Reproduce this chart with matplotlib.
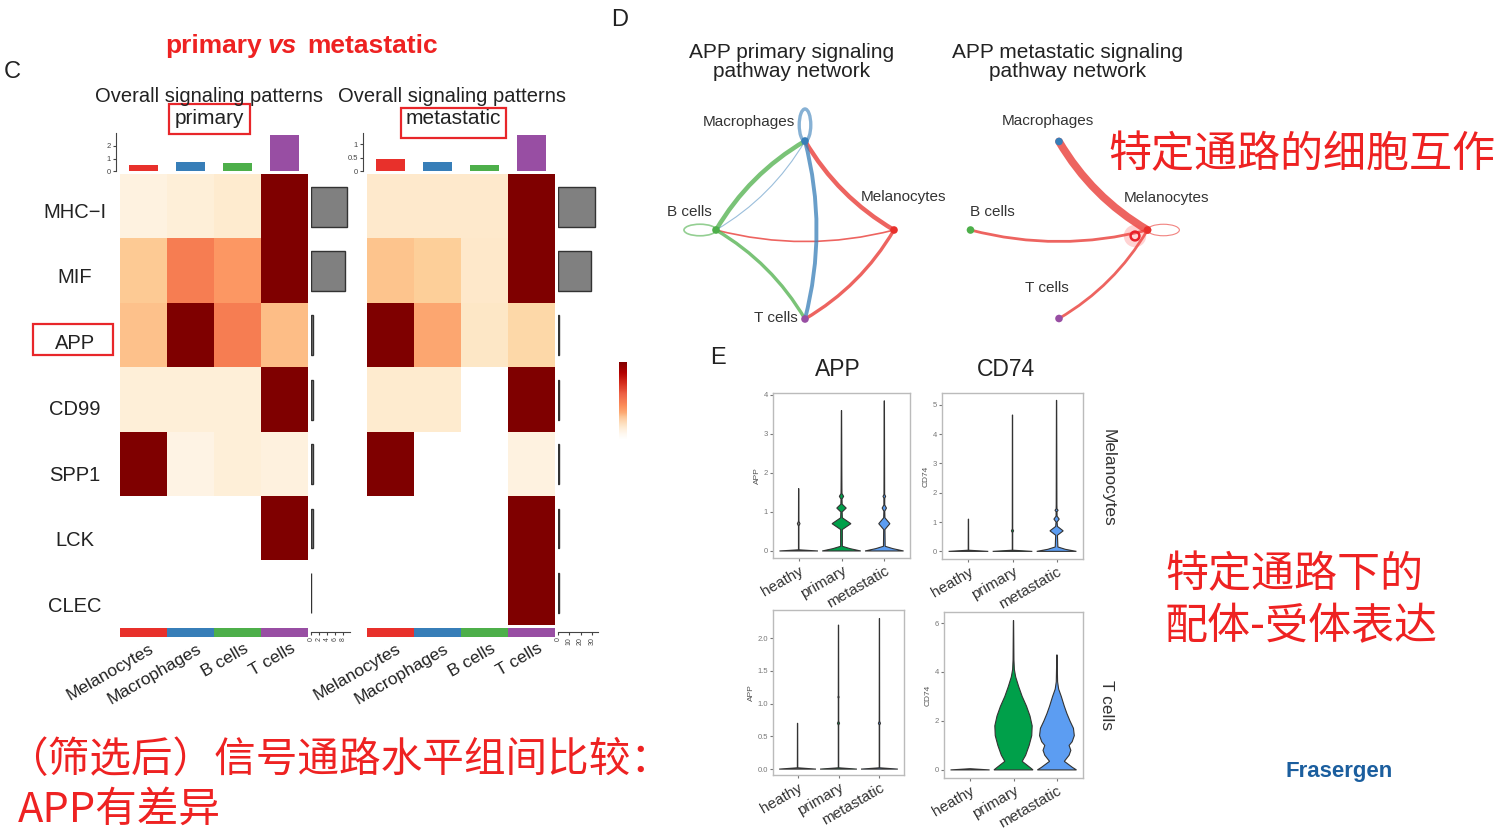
import numpy as np
import matplotlib
matplotlib.use('Agg')
import matplotlib.pyplot as plt
from matplotlib.patches import Rectangle, FancyArrowPatch, Ellipse

plt.rcParams['font.family'] = ['Liberation Sans', 'Noto Sans CJK SC', 'DejaVu Sans']

W, H = 1500, 833

# ---- panel C: signaling role heatmaps ----
pathways = ['MHC−I', 'MIF', 'APP', 'CD99', 'SPP1', 'LCK', 'CLEC']
cell_types = ['Melanocytes', 'Macrophages', 'B cells', 'T cells']
cell_colors = ['#E8302B', '#377EB8', '#4DAF4A', '#984EA3']

primary_heat = [[0.04, 0.07, 0.10, 1.0],
                [0.30, 0.55, 0.47, 1.0],
                [0.34, 1.00, 0.55, 0.36],
                [0.07, 0.07, 0.07, 1.0],
                [1.00, 0.03, 0.07, 0.05],
                [0, 0, 0, 1.0],
                [0, 0, 0, 0]]
metastatic_heat = [[0.11, 0.11, 0.11, 1.0],
                   [0.33, 0.27, 0.12, 1.0],
                   [1.00, 0.43, 0.13, 0.22],
                   [0.10, 0.10, 0, 1.0],
                   [1.00, 0, 0, 0.04],
                   [0, 0, 0, 1.0],
                   [0, 0, 0, 1.0]]
primary_top = [0.48, 0.70, 0.67, 2.88]
metastatic_top = [0.44, 0.32, 0.23, 1.33]
primary_side = [9.0, 8.4, 0.6, 0.6, 0.55, 0.5, 0.1]
metastatic_side = [33, 29, 1.0, 0.9, 0.8, 0.8, 0.8]

# ---- panel D: APP signaling networks ----
nodes = ['Melanocytes', 'Macrophages', 'B cells', 'T cells']
primary_edges = [('Melanocytes', 'Macrophages', 4.0), ('Melanocytes', 'T cells', 3.0),
                 ('Melanocytes', 'B cells', 1.5), ('B cells', 'Macrophages', 4.0),
                 ('B cells', 'T cells', 3.0), ('Macrophages', 'T cells', 3.5),
                 ('Macrophages', 'B cells', 1.0)]
primary_loops = [('B cells', 1.5), ('Macrophages', 3.0)]
metastatic_edges = [('Melanocytes', 'Macrophages', 7.0), ('Melanocytes', 'B cells', 2.5),
                    ('Melanocytes', 'T cells', 2.5)]
metastatic_loops = [('Melanocytes', 1.0)]

# ---- panel E: violin profiles (expression level, half width) ----
groups = ['heathy', 'primary', 'metastatic']
group_colors = ['#8A8A8A', '#00A04A', '#5C9DF2']

app_mel = [
    ([0, 0.03, 0.64, 0.7, 0.76, 1.6], [0.45, 0.005, 0.005, 0.03, 0.005, 0.003]),
    ([0, 0.06, 0.12, 0.55, 0.7, 0.85, 1.0, 1.1, 1.2, 1.33, 1.4, 1.47, 1.6, 2.0, 3.6],
     [0.45, 0.2, 0.02, 0.02, 0.22, 0.02, 0.015, 0.11, 0.015, 0.012, 0.05, 0.012, 0.01, 0.008, 0.003]),
    ([0, 0.06, 0.12, 0.55, 0.7, 0.85, 1.02, 1.1, 1.18, 1.35, 1.4, 1.45, 3.85],
     [0.45, 0.2, 0.02, 0.015, 0.13, 0.015, 0.01, 0.05, 0.01, 0.01, 0.03, 0.008, 0.003]),
]
cd74_mel = [
    ([0, 0.04, 1.1], [0.45, 0.005, 0.003]),
    ([0, 0.04, 0.64, 0.7, 0.76, 4.65], [0.45, 0.005, 0.005, 0.025, 0.005, 0.003]),
    ([0, 0.07, 0.15, 0.55, 0.7, 0.85, 1.0, 1.1, 1.2, 1.35, 1.4, 1.45, 1.6, 5.15],
     [0.45, 0.2, 0.03, 0.02, 0.15, 0.02, 0.012, 0.06, 0.012, 0.01, 0.035, 0.01, 0.008, 0.003]),
]
app_t = [
    ([0, 0.02, 0.7], [0.45, 0.005, 0.003]),
    ([0, 0.02, 0.67, 0.7, 0.73, 1.08, 1.1, 1.12, 2.2],
     [0.45, 0.005, 0.005, 0.025, 0.005, 0.005, 0.015, 0.005, 0.003]),
    ([0, 0.02, 0.67, 0.7, 0.73, 2.3], [0.45, 0.005, 0.005, 0.025, 0.005, 0.003]),
]
cd74_t = [
    ([0, 0.05], [0.45, 0]),
    ([0, 0.1, 0.35, 0.6, 1.0, 1.4, 1.8, 2.2, 2.6, 3.0, 3.4, 3.8, 4.1, 4.5, 6.1],
     [0.45, 0.38, 0.2, 0.28, 0.36, 0.42, 0.43, 0.38, 0.3, 0.2, 0.12, 0.05, 0.02, 0.01, 0.003]),
    ([0, 0.1, 0.35, 0.6, 0.8, 1.0, 1.15, 1.4, 1.7, 2.0, 2.3, 2.6, 3.0, 3.3, 3.6, 4.7],
     [0.45, 0.36, 0.17, 0.28, 0.32, 0.28, 0.35, 0.4, 0.38, 0.3, 0.23, 0.17, 0.1, 0.04, 0.015, 0.003]),
]

RED = '#EE2222'

fig = plt.figure(figsize=(15, 8.33), dpi=100)


def add_ax(x0, y0, x1, y1):
    return fig.add_axes([x0 / W, 1 - y1 / H, (x1 - x0) / W, (y1 - y0) / H])


def ftext(x, y, s, **kw):
    return fig.text(x / W, 1 - y / H, s, **kw)


def fbox(x0, y0, x1, y1):
    fig.add_artist(Rectangle((x0 / W, 1 - y1 / H), (x1 - x0) / W, (y1 - y0) / H,
                             transform=fig.transFigure, fill=False, ec='#E8262A', lw=1.6))


cmap = plt.get_cmap('OrRd').copy()
cmap.set_bad('white')


def draw_heatmap(x0, heat, top, top_ticks, top_labels, top_max, side, side_ticks, side_max, side_w):
    ax = add_ax(x0, 174.5, x0 + 188, 625)
    data = np.ma.masked_equal(np.array(heat, float), 0)
    ax.imshow(data, cmap=cmap, vmin=0, vmax=1, aspect='auto', interpolation='nearest')
    ax.set_axis_off()

    axt = add_ax(x0, 133, x0 + 188, 171)
    axt.bar(range(4), top, width=0.62, color=cell_colors)
    axt.set_xlim(-0.5, 3.5)
    axt.set_ylim(0, top_max)
    for s in ['top', 'right', 'bottom']:
        axt.spines[s].set_visible(False)
    axt.spines['left'].set_position(('outward', 3))
    axt.spines['left'].set_color('#444444')
    axt.set_xticks([])
    axt.set_yticks(top_ticks)
    axt.set_yticklabels(top_labels)
    axt.tick_params(axis='y', labelsize=5.5, length=2.5, pad=1, colors='#444444')

    axs = add_ax(x0, 628, x0 + 188, 637)
    axs.bar(range(4), [1] * 4, width=1, color=cell_colors)
    axs.set_xlim(-0.5, 3.5)
    axs.set_ylim(0, 1)
    axs.set_axis_off()
    for i, name in enumerate(cell_types):
        ftext(x0 + 47 * i + 29, 641, name, rotation=30, ha='right', va='top',
              rotation_mode='anchor', fontsize=12.5, color='#222222')

    axr = add_ax(x0 + 191, 174.5, x0 + 191 + side_w, 625)
    axr.barh(range(7), side, height=0.62, color='#808080', edgecolor='#333333', lw=1)
    axr.set_ylim(6.5, -0.5)
    axr.set_xlim(0, side_max)
    for s in ['top', 'right', 'left']:
        axr.spines[s].set_visible(False)
    axr.spines['bottom'].set_position(('outward', 5))
    axr.spines['bottom'].set_color('#444444')
    axr.set_yticks([])
    axr.set_xticks(side_ticks)
    axr.tick_params(axis='x', labelsize=5, length=2.5, pad=1, colors='#444444', labelrotation=90)


draw_heatmap(120, primary_heat, primary_top, [0, 1, 2], ['0', '1', '2'], 3.04,
             primary_side, [0, 2, 4, 6, 8], 9.75, 39)
draw_heatmap(367, metastatic_heat, metastatic_top, [0, 0.5, 1], ['0', '0.5', '1'], 1.41,
             metastatic_side, [0, 10, 20, 30], 35.4, 40)

for i, name in enumerate(pathways):
    ftext(75, 212 + 65.8 * i, name, ha='center', va='center', fontsize=14.5, color='#222222')
fbox(33, 324, 113, 355)

# colour key
axc = add_ax(619, 362, 627, 440)
v = np.linspace(1, 0.12, 80)
rgba = cmap(v)
rgba[:, 3] = np.clip((v - 0.12) / 0.3, 0, 1)
axc.imshow(rgba[:, None, :], aspect='auto')
axc.set_axis_off()

ftext(12, 72, 'C', fontsize=17, ha='center', va='center', color='#222222')
ftext(165, 46, 'primary', fontsize=19, fontweight='bold', color=RED, ha='left', va='center')
ftext(282, 46, 'vs', fontsize=19, fontweight='bold', style='italic', color=RED, ha='center', va='center')
ftext(307, 46, 'metastatic', fontsize=19, fontweight='bold', color=RED, ha='left', va='center')
ftext(209, 97, 'Overall signaling patterns', fontsize=14.5, ha='center', va='center', color='#222222')
ftext(452, 97, 'Overall signaling patterns', fontsize=14.5, ha='center', va='center', color='#222222')
ftext(209, 119, 'primary', fontsize=15, ha='center', va='center', color='#222222')
ftext(453, 119, 'metastatic', fontsize=15, ha='center', va='center', color='#222222')
fbox(169, 104, 250, 134)
fbox(401, 108, 506, 138)

# ---- panel D ----
angles = np.deg2rad([0, 90, 180, 270])
node_xy = {n: (np.cos(a), np.sin(a)) for n, a in zip(nodes, angles)}
node_col = dict(zip(nodes, cell_colors))
loop_dir = dict(zip(nodes, [0, 90, 180, 270]))


def draw_network(cx, cy, r, edges, loops, label_offsets, title, title_x):
    ax = add_ax(cx - 160, 95, cx + 160, 345)
    ax.set_xlim(-160 / r, 160 / r)
    ax.set_ylim(-(345 - cy) / r, (cy - 95) / r)
    ax.set_axis_off()
    for src, dst, w in edges:
        alpha = 0.5 if w < 1.2 else 0.75
        ax.add_patch(FancyArrowPatch(node_xy[src], node_xy[dst], arrowstyle='-',
                                     connectionstyle='arc3,rad=-0.13', lw=w * 0.8,
                                     color=node_col[src], alpha=alpha, shrinkA=0, shrinkB=0,
                                     capstyle='round'))
    for n, w in loops:
        a = np.deg2rad(loop_dir[n])
        x, y = node_xy[n]
        ax.add_patch(Ellipse((x + 0.18 * np.cos(a), y + 0.18 * np.sin(a)), 0.36, 0.13,
                             angle=loop_dir[n], fill=False, ec=node_col[n], lw=w * 0.8, alpha=0.6))
    for n in nodes:
        x, y = node_xy[n]
        ax.scatter([x], [y], s=30, color=node_col[n], zorder=5, edgecolors='none')
        dx, dy, ha = label_offsets[n]
        ax.annotate(n, (x, y), xytext=(dx, dy), textcoords='offset pixels', ha=ha, va='center',
                    fontsize=11, color='#333333')
    ftext(title_x, 62, title, fontsize=15, ha='center', va='center', linespacing=1.0, color='#222222')
    return ax


left_offsets = {'Macrophages': (-10, 19, 'right'), 'Melanocytes': (9, 33, 'center'),
                'B cells': (-27, 18, 'center'), 'T cells': (-7, 1, 'right')}
right_offsets = {'Macrophages': (-11, 20, 'center'), 'Melanocytes': (19, 32, 'center'),
                 'B cells': (22, 18, 'center'), 'T cells': (-12, 31, 'center')}
draw_network(805, 230, 89, primary_edges, primary_loops, left_offsets,
             'APP primary signaling\npathway network', 792)
axn = draw_network(1059, 230, 88.5, metastatic_edges, metastatic_loops, right_offsets,
                   'APP metastatic signaling\npathway network', 1068)
hx, hy = (1135 - 1059) / 88.5, -(236 - 230) / 88.5
axn.scatter([hx], [hy], s=260, color='#FF5050', alpha=0.25, edgecolors='none', zorder=6)
axn.scatter([hx], [hy], s=40, facecolors='none', edgecolors='#E8202A', lw=1.8, zorder=7)

ftext(620, 20, 'D', fontsize=17, ha='center', va='center', color='#222222')
ftext(1302, 155, '特定通路的细胞互作', fontsize=31, color=RED, ha='center', va='center',
      family=['Noto Sans CJK SC'])

# ---- panel E ----


def draw_violins(box, profiles, ylim, yticks, ylabel):
    ax = add_ax(*box)
    for i, (ys, ws) in enumerate(profiles):
        ys = np.array(ys, float)
        ws = np.array(ws, float)
        xs = np.concatenate([i + 1 + ws, (i + 1 - ws)[::-1]])
        yy = np.concatenate([ys, ys[::-1]])
        ax.fill(xs, yy, facecolor=group_colors[i], edgecolor='#333333', lw=0.8)
    ax.set_xlim(0.4, 3.6)
    ax.set_ylim(ylim)
    for s in ax.spines.values():
        s.set_color('#BBBBBB')
        s.set_linewidth(1)
    ax.set_yticks(yticks)
    ax.set_xticks([1, 2, 3])
    ax.set_xticklabels(groups, rotation=30, ha='right', rotation_mode='anchor', fontsize=11,
                       color='#333333')
    ax.tick_params(axis='y', labelsize=5.5, length=2, pad=1.5, colors='#777777')
    ax.tick_params(axis='x', length=2, pad=2, colors='#777777', labelcolor='#333333')
    ax.set_ylabel(ylabel, fontsize=6, color='#555555', labelpad=2)
    return ax


draw_violins((773, 393, 910, 558), app_mel, (-0.18, 4.05), [0, 1, 2, 3, 4], 'APP')
draw_violins((942, 393, 1083, 559), cd74_mel, (-0.26, 5.4), [0, 1, 2, 3, 4, 5], 'CD74')
ax_b = draw_violins((773, 610, 904, 775), app_t, (-0.09, 2.43), [0, 0.5, 1.0, 1.5, 2.0], 'APP')
ax_b.set_yticklabels(['0.0', '0.5', '1.0', '1.5', '2.0'])
draw_violins((944, 612, 1083, 778), cd74_t, (-0.33, 6.45), [0, 2, 4, 6], 'CD74')

ftext(718, 358, 'E', fontsize=17, ha='center', va='center', color='#222222')
ftext(838, 370, 'APP', fontsize=16.5, ha='center', va='center', color='#222222')
ftext(1006, 370, 'CD74', fontsize=16.5, ha='center', va='center', color='#222222')
ftext(1108, 478, 'Melanocytes', fontsize=12.5, rotation=-90, ha='center', va='center', color='#333333')
ftext(1106, 705, 'T cells', fontsize=12.5, rotation=-90, ha='center', va='center', color='#333333')

ftext(1165, 575, '特定通路下的', fontsize=31, color=RED, ha='left', va='center',
      family=['Noto Sans CJK SC'])
ftext(1165, 627, '配体-受体表达', fontsize=31, color=RED, ha='left', va='center',
      family=['Noto Sans CJK SC'])
ftext(6, 760, '（筛选后）信号通路水平组间比较：', fontsize=30, color=RED, ha='left', va='center',
      family=['Noto Sans CJK SC'])
ftext(18, 810, 'APP有差异', fontsize=30, color=RED, ha='left', va='center',
      family=['Noto Sans CJK SC'])
ftext(1339, 772, 'Frasergen', fontsize=16, fontweight='bold', color='#1B5E9E', ha='center', va='center')

fig.savefig('out.png', dpi=100)
